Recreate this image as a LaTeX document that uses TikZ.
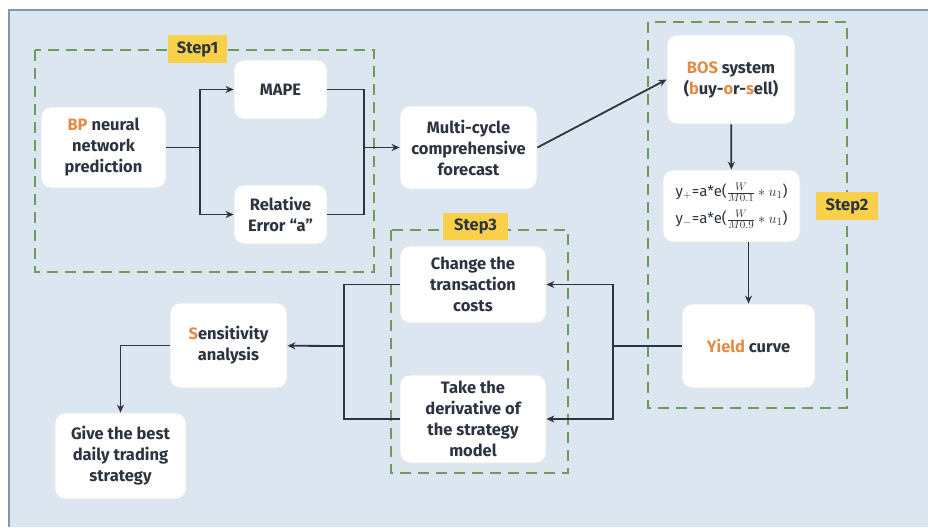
\documentclass[tikz,border=0pt]{standalone}
\usepackage{fontspec}
\setmainfont{Fira Sans}
\usepackage{amsmath}
\usepackage{tikz}
\usetikzlibrary{positioning}
\usetikzlibrary{arrows.meta, arrows}
\definecolor{PanelBlue}{HTML}{DCE6F0}
\definecolor{PanelEdge}{HTML}{8398AE}
\definecolor{LineDark}{HTML}{2C3440}
\definecolor{FrameGreen}{HTML}{6F9A5E}
\definecolor{LabelYellow}{HTML}{F9D04A}
\definecolor{HiOrange}{HTML}{E38B45}
\newcommand{\hi}[1]{\textcolor{HiOrange}{#1}}
\tikzset{
	box/.style={ % hvide kasser
			draw=gray!20,
			fill=white,
			rounded corners=10pt,
			line width=0.8pt,
			align=center,
			font=\bfseries\fontsize{16.5}{21}\selectfont,
			text=LineDark,
			inner sep=2pt
		},
	stepframe/.style={ % stiplet ramme om hvert trin
			draw=FrameGreen,
			line width=1.8pt,
			dash pattern=on 11pt off 7pt
		},
	steplabel/.style={
			fill=LabelYellow,
			font=\bfseries\fontsize{16.5}{18}\selectfont,
			text=LineDark,
			inner sep=0pt
		},
	link/.style={
			draw=LineDark,
			line width=1.8pt,
			>={Stealth[length=8pt, width=7pt]}
		}
}

\begin{document}
\begin{tikzpicture}[x=1pt, y=-1pt]
	% Baggrund
	\useasboundingbox (0,0) rectangle (928,527);
	\fill[white] (0,0) rectangle (928,527);
	\fill[PanelBlue] (9,10) rectangle (928,527);
	\draw[PanelEdge, line width=1.2pt] (9,527) -- (9,10) -- (928,10);

	% Rammer
	\draw[stepframe] (35,50) rectangle (374,272);
	\draw[stepframe] (648,22) rectangle (847,408);
	\draw[stepframe] (391,230) rectangle (568,473);

	% Nodes
	\node (bp) [box, minimum width=125pt, minimum height=81pt] at (103.5,147.5) {\hi{BP} neural\\network\\prediction};
	\node (mape) [box, minimum width=93pt, minimum height=59pt] at (280.5,89.5) {MAPE};
	\node (relerr) [box, minimum width=93pt, minimum height=59pt] at (280.5,214.5) {Relative\\Error ``a''};
	\node (multi) [box, minimum width=137pt, minimum height=83pt] at (468.5,147.5) {Multi-cycle\\comprehensive\\forecast};
	\node (bos) [box, minimum width=128pt, minimum height=89pt] at (731,79.5) {\hi{BOS} system\\(\hi{b}uy-\hi{o}r-\hi{s}ell)};
	\node (formula) [box, minimum width=137pt, minimum height=72pt, font=\fontsize{15}{27}\selectfont] at (731.5,206)
		{y$_{+}$=a*e($\frac{W}{M0.1}\ast u_1$)\\y$_{-}$=a*e($\frac{W}{M0.9}\ast u_1$)};
	\node (yield) [box, minimum width=133pt, minimum height=84pt] at (748.5,346) {\hi{Yield} curve};
	\node (change) [box, minimum width=146pt, minimum height=77pt] at (473,284.5) {Change the\\transaction\\costs};
	\node (deriv) [box, minimum width=146pt, minimum height=88pt] at (473,419) {Take the\\derivative of\\the strategy\\model};
	\node (sens) [box, minimum width=117pt, minimum height=85pt] at (228.5,345.5) {\hi{S}ensitivity\\analysis};
	\node (give) [box, minimum width=131pt, minimum height=86pt] at (120.5,456) {Give the best\\daily trading\\strategy};

	\node (step1) [steplabel, minimum width=59pt, minimum height=28pt] at (197.5,49) {Step1};
	\node (step2) [steplabel, minimum width=62pt, minimum height=28pt] at (847,206) {Step2};
	\node (step3) [steplabel, minimum width=65pt, minimum height=27pt] at (475.5,226.5) {Step3};

	\coordinate (split) at (200,147.5);
	\coordinate (merge) at (364,147.5);
	\coordinate (fork) at (613,346);
	\coordinate (join) at (344,346);

	% Forbindelser
	\draw[link] (bp) -- (split);
	\draw[link, ->] (split) |- (mape);
	\draw[link, ->] (split) |- (relerr);
	\draw[link] (mape) -| (merge);
	\draw[link] (relerr) -| (merge);
	\draw[link, ->] (merge) -- (multi);
	\draw[link, ->] (multi.east) -- (bos.west);
	\draw[link, ->] (bos) -- (formula);
	\draw[link, ->] (formula.south -| yield.north) -- (yield.north);
	\draw[link] (yield) -- (fork);
	\draw[link, ->] (fork) |- (change);
	\draw[link, ->] (fork) |- (deriv);
	\draw[link] (change) -| (join);
	\draw[link] (deriv) -| (join);
	\draw[link, ->] (join) -- (sens);
	\draw[link, ->] (sens) -| (give);
\end{tikzpicture}
\end{document}
